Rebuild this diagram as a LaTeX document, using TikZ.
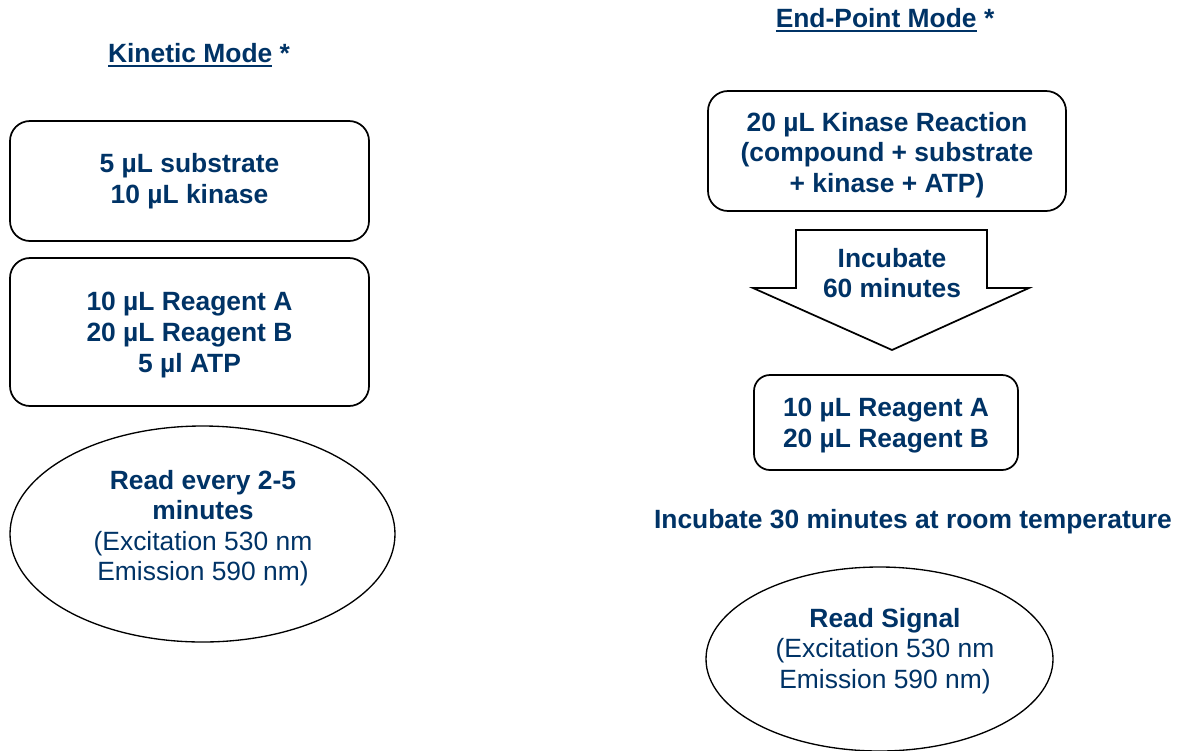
\documentclass[tikz,border=0pt]{standalone}
\usepackage{fontspec}
\setmainfont{Liberation Sans}
\usetikzlibrary{shapes.geometric}
\definecolor{navy}{RGB}{0,51,102}
\newcommand\myul[1]{\setbox0\hbox{#1}\rlap{\rule[-3.2pt]{\wd0}{1.4pt}}\box0\relax}
\begin{document}
\begin{tikzpicture}[x=0.75pt,y=-0.75pt,
  txt/.style={text=navy,align=center,font=\fontsize{19.8pt}{22.9pt}\selectfont\bfseries,inner sep=0pt},
  boxA/.style={draw=black,line width=1.3pt,rounded corners=15pt,fill=white},
  ell/.style={draw=black,line width=1pt,ellipse,inner sep=0pt,fill=white},
  arrowshape/.style={draw=black,line width=1.3pt,fill=white,line join=miter}]
\useasboundingbox (0,0) rectangle (1180,750);
% titles
\node[txt] (t1) at (199,55) {\myul{Kinetic Mode} *};
\node[txt] (t2) at (885,20) {\myul{End-Point Mode} *};
% left column
\node[boxA,minimum width=269.25pt,minimum height=90pt] (b1) at (189.5,181) {};
\node[txt] (b1t) at (189.5,181) {5 µL substrate\\10 µL kinase};
\node[boxA,minimum width=269.25pt,minimum height=111pt] (b2) at (189.5,332) {};
\node[txt] (b2t) at (189.5,335) {10 µL Reagent A\\20 µL Reagent B\\5 µl ATP};
\node[ell,minimum width=288.75pt,minimum height=162pt] (e1) at (202.5,534) {};
\node[txt] (e1t) at (203,528) {Read every 2-5\\minutes\\{\mdseries(Excitation 530 nm}\\{\mdseries Emission 590 nm)}};
% right column
\node[boxA,minimum width=268.5pt,minimum height=90pt] (b3) at (887,151) {};
\node[txt] (b3t) at (887,155) {20 µL Kinase Reaction\\(compound + substrate\\+ kinase + ATP)};
\draw[arrowshape] (796,230) -- (987,230) -- (987,288) -- (1029,288) -- (892,350) -- (753,288) -- (796,288) -- cycle;
\node[txt] (ar) at (892,273) {Incubate\\60 minutes};
\node[boxA,minimum width=198pt,minimum height=71.25pt,rounded corners=12pt] (b4) at (886,422.5) {};
\node[txt] (b4t) at (886,425.5) {10 µL Reagent A\\20 µL Reagent B};
\node[txt] (inc) at (913,522) {Incubate 30 minutes at room temperature};
\node[ell,minimum width=260.25pt,minimum height=138pt] (e2) at (879.5,659) {};
\node[txt] (e2t) at (885,651) {Read Signal\\{\mdseries(Excitation 530 nm}\\{\mdseries Emission 590 nm)}};
\end{tikzpicture}
\end{document}
